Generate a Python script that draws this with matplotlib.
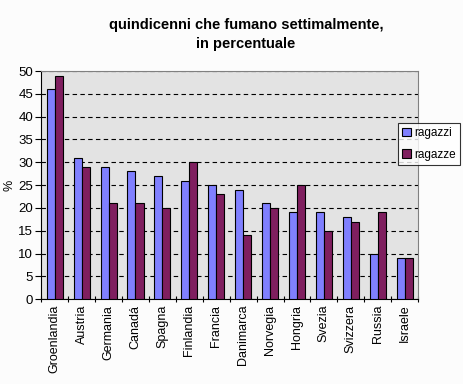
import numpy as np
import matplotlib.pyplot as plt

# data
paesi = ["Groenlandia", "Austria", "Germania", "Canadá", "Spagna", "Finlandia",
         "Francia", "Danimarca", "Norvegia", "Hongria", "Svezia", "Svizzera",
         "Russia", "Israele"]
ragazzi = [46, 31, 29, 28, 27, 26, 25, 24, 21, 19, 19, 18, 10, 9]
ragazze = [49, 29, 21, 21, 20, 30, 23, 14, 20, 25, 15, 17, 19, 9]

plt.rcParams['font.family'] = ['Liberation Sans', 'DejaVu Sans']

fig = plt.figure(figsize=(4.64, 3.84), dpi=100, facecolor="#fcfcfc")
ax = fig.add_axes([0.089, 0.221, 0.812, 0.594])
ax.set_facecolor("#e3e3e3")

x = np.arange(len(paesi))
w = 0.3
ax.bar(x - w / 2, ragazzi, w, color="#8080ff", edgecolor="black", linewidth=0.8,
       label="ragazzi", zorder=3)
ax.bar(x + w / 2, ragazze, w, color="#7f1f5f", edgecolor="black", linewidth=0.8,
       label="ragazze", zorder=3)

ax.set_xlim(-0.5, len(paesi) - 0.5)
ax.set_ylim(0, 50)
ax.set_yticks(range(0, 51, 5))
ax.yaxis.grid(True, linestyle=(0, (4, 3)), color="black", linewidth=0.8, zorder=1)
ax.set_xticks(np.arange(-0.5, len(paesi), 1))
ax.set_xticklabels([])
ax.set_xticks(x, minor=True)
ax.set_xticklabels(paesi, minor=True, rotation=90, fontsize=9)
ax.tick_params(axis="x", which="minor", length=0, pad=4)
ax.tick_params(axis="x", which="major", length=4, direction="inout")
ax.tick_params(axis="y", length=4, labelsize=9.5, pad=2)

for s in ["top", "right"]:
    ax.spines[s].set_color("#808080")
for s in ["left", "bottom"]:
    ax.spines[s].set_color("black")

ax.set_ylabel("%", fontsize=9, labelpad=2)
fig.text(0.53, 0.91, "quindicenni che fumano settimalmente,\nin percentuale",
         ha="center", va="center", fontsize=10.5, fontweight="bold", linespacing=1.4)

leg = ax.legend(loc="upper left", bbox_to_anchor=(0.93, 0.8), fontsize=8.5,
                frameon=True, fancybox=False, edgecolor="black", handlelength=0.7,
                handleheight=0.7, handletextpad=0.3, borderpad=0.4, labelspacing=0.8)
leg.get_frame().set_facecolor("white")
leg.get_frame().set_linewidth(0.8)

fig.savefig("out.png", dpi=100, facecolor=fig.get_facecolor())
